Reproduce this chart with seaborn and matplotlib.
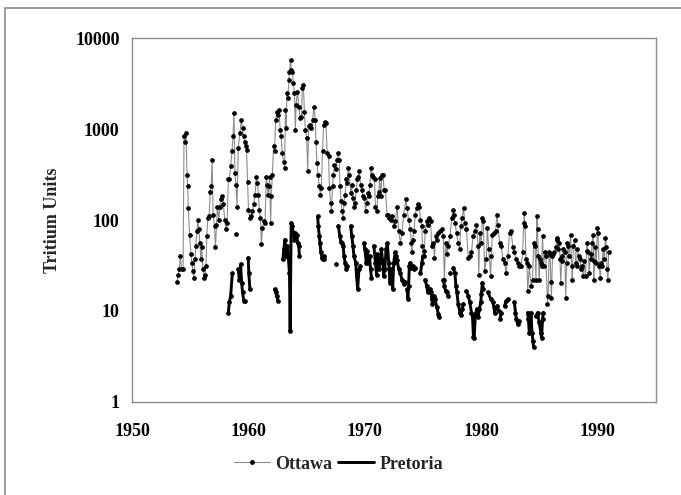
import numpy as np
import pandas as pd
import matplotlib
matplotlib.use("Agg")
import matplotlib.pyplot as plt
from matplotlib.lines import Line2D
from matplotlib.patches import Rectangle
import seaborn as sns

# Ottawa monthly tritium (TU)
ott_year = [
    1953.86, 1953.95, 1954.06, 1954.15, 1954.26, 1954.38, 1954.46, 1954.55, 1954.63, 1954.72,
    1954.77, 1954.83, 1954.94, 1955.06, 1955.14, 1955.23, 1955.31, 1955.40, 1955.48, 1955.57,
    1955.65, 1955.74, 1955.82, 1955.91, 1955.99, 1956.08, 1956.17, 1956.25, 1956.34, 1956.42,
    1956.51, 1956.62, 1956.71, 1956.79, 1956.88, 1956.96, 1957.08, 1957.16, 1957.25, 1957.33,
    1957.45, 1957.53, 1957.62, 1957.73, 1957.84, 1957.96, 1958.07, 1958.16, 1958.27, 1958.35,
    1958.47, 1958.58, 1958.67, 1958.75, 1958.84, 1958.92, 1959.01, 1959.12, 1959.26, 1959.38,
    1959.49, 1959.58, 1959.66, 1959.75, 1959.83, 1959.92, 1960.00, 1960.12, 1960.23, 1960.34,
    1960.46, 1960.57, 1960.68, 1960.77, 1960.85, 1960.94, 1961.03, 1961.11, 1961.20, 1961.31,
    1961.42, 1961.53, 1961.59, 1961.68, 1961.76, 1961.82, 1961.90, 1961.96, 1962.05, 1962.16,
    1962.24, 1962.33, 1962.44, 1962.53, 1962.61, 1962.73, 1962.81, 1962.90, 1963.01, 1963.10,
    1963.18, 1963.24, 1963.30, 1963.38, 1963.47, 1963.52, 1963.61, 1963.69, 1963.78, 1963.86,
    1963.95, 1964.03, 1964.09, 1964.21, 1964.32, 1964.43, 1964.55, 1964.63, 1964.72, 1964.80,
    1964.89, 1965.00, 1965.09, 1965.17, 1965.29, 1965.40, 1965.51, 1965.63, 1965.74, 1965.80,
    1965.88, 1965.97, 1966.08, 1966.17, 1966.25, 1966.37, 1966.45, 1966.56, 1966.65, 1966.76,
    1966.88, 1966.96, 1967.05, 1967.13, 1967.22, 1967.30, 1967.39, 1967.50, 1967.62, 1967.70,
    1967.79, 1967.87, 1967.96, 1968.04, 1968.13, 1968.21, 1968.30, 1968.41, 1968.50, 1968.58,
    1968.67, 1968.78, 1968.87, 1968.95, 1969.06, 1969.15, 1969.26, 1969.35, 1969.43, 1969.52,
    1969.63, 1969.72, 1969.83, 1969.95, 1970.06, 1970.17, 1970.26, 1970.34, 1970.43, 1970.54,
    1970.63, 1970.71, 1970.83, 1970.91, 1971.03, 1971.11, 1971.20, 1971.28, 1971.37, 1971.48,
    1971.57, 1971.65, 1971.76, 1971.91, 1971.99, 1972.11, 1972.22, 1972.34, 1972.48, 1972.62,
    1972.77, 1972.91, 1973.05, 1973.19, 1973.33, 1973.53, 1973.62, 1973.76, 1973.90, 1973.99,
    1974.04, 1974.10, 1974.22, 1974.33, 1974.44, 1974.56, 1974.67, 1974.78, 1974.90, 1974.95,
    1975.04, 1975.12, 1975.18, 1975.30, 1975.41, 1975.52, 1975.64, 1975.75, 1975.89, 1975.98,
    1976.09, 1976.18, 1976.32, 1976.46, 1976.60, 1976.74, 1976.83, 1976.94, 1977.03, 1977.17,
    1977.31, 1977.46, 1977.54, 1977.63, 1977.74, 1977.88, 1978.02, 1978.14, 1978.25, 1978.36,
    1978.48, 1978.59, 1978.73, 1978.88, 1979.02, 1979.16, 1979.30, 1979.44, 1979.59, 1979.73,
    1979.79, 1979.87, 1980.01, 1980.10, 1980.18, 1980.30, 1980.44, 1980.52, 1980.64, 1980.81,
    1980.87, 1980.95, 1981.09, 1981.23, 1981.35, 1981.43, 1981.58, 1981.72, 1981.86, 1982.00,
    1982.14, 1982.29, 1982.43, 1982.57, 1982.71, 1982.85, 1982.99, 1983.14, 1983.28, 1983.42,
    1983.56, 1983.65, 1983.70, 1983.76, 1983.85, 1983.93, 1983.99, 1984.13, 1984.27, 1984.41,
    1984.50, 1984.61, 1984.70, 1984.78, 1984.84, 1984.90, 1984.98, 1985.07, 1985.12, 1985.18,
    1985.27, 1985.35, 1985.47, 1985.55, 1985.69, 1985.75, 1985.84, 1985.92, 1985.98, 1986.03,
    1986.12, 1986.20, 1986.26, 1986.40, 1986.49, 1986.55, 1986.63, 1986.72, 1986.77, 1986.83,
    1986.92, 1986.97, 1987.06, 1987.17, 1987.26, 1987.34, 1987.40, 1987.46, 1987.54, 1987.68,
    1987.77, 1987.82, 1987.91, 1988.02, 1988.11, 1988.19, 1988.25, 1988.36, 1988.48, 1988.59,
    1988.68, 1988.76, 1988.82, 1988.96, 1989.05, 1989.10, 1989.19, 1989.27, 1989.39, 1989.44,
    1989.53, 1989.61, 1989.67, 1989.73, 1989.81, 1989.90, 1989.96, 1990.04, 1990.13, 1990.24,
    1990.30, 1990.38, 1990.47, 1990.58, 1990.67, 1990.75, 1990.81, 1990.89, 1990.95,
]
ott_tu = [
    21, 25, 29, 40, 29, 29, 830, 730, 900, 315,
    235, 135, 69, 42, 34, 27.5, 23, 37, 52, 75,
    100, 79, 56, 37, 50, 29, 23, 25, 31, 67,
    105, 110, 205, 235, 460, 115, 86, 50, 89, 140,
    100, 140, 170, 185, 150, 100, 79, 93, 280, 280,
    390, 570, 830, 1500, 330, 245, 140, 620, 900, 1260,
    1020, 830, 730, 645, 590, 265, 130, 105, 110, 125,
    150, 190, 300, 255, 190, 130, 105, 54, 82, 97,
    93, 300, 245, 190, 235, 300, 93, 185, 315, 645,
    570, 1260, 1560, 1430, 1630, 980, 830, 545, 440, 375,
    1630, 1020, 2480, 2180, 3470, 4280, 5740, 4470, 4280, 3190,
    2480, 980, 1850, 2580, 1770, 1320, 1370, 2810, 3060, 1560,
    980, 800, 345, 1070, 1110, 1020, 1260, 1770, 1260, 730,
    420, 315, 235, 190, 225, 570, 1110, 1210, 1160, 545,
    500, 225, 155, 125, 235, 315, 405, 360, 460, 545,
    460, 235, 160, 125, 105, 155, 190, 280, 255, 375,
    315, 200, 245, 175, 140, 155, 215, 280, 300, 345,
    245, 215, 185, 175, 125, 155, 200, 185, 245, 375,
    315, 300, 280, 140, 125, 185, 205, 290, 185, 315,
    315, 215, 215, 115, 115, 105, 100, 110, 86, 97,
    140, 75, 56, 72, 115, 170, 135, 100, 79, 56,
    44, 61, 75, 115, 135, 150, 140, 100, 86, 52,
    40, 46, 75, 97, 89, 105, 97, 52, 56, 38.5,
    67, 61, 72, 75, 79, 67, 22, 56, 42, 52,
    67, 105, 130, 115, 93, 72, 56, 48, 86, 105,
    135, 93, 79, 38.5, 40, 44, 67, 75, 89, 52,
    25, 72, 56, 105, 97, 27.5, 37, 82, 48, 24,
    40, 69, 72, 75, 115, 89, 56, 52, 37, 34,
    26, 40, 72, 75, 50, 44, 37, 34, 31, 31,
    44, 93, 120, 86, 37, 34, 16.7, 31, 19, 22,
    56, 52, 22, 110, 79, 40, 22, 37, 34, 31,
    67, 31, 44, 40, 12, 14.7, 44, 42, 21, 14,
    40, 42, 44, 50, 61, 64, 48, 56, 37, 20.5,
    35, 40, 48, 44, 14, 34, 56, 52, 40, 69,
    31, 22, 52, 61, 34, 31, 48, 40, 37, 28.7,
    31, 24, 35, 24, 46, 56, 44, 26, 42, 37,
    56, 69, 22, 35, 50, 34, 82, 72, 31, 23,
    34, 31, 48, 37, 64, 50, 28.7, 22, 44,
]

# Pretoria tritium (TU); NaN marks a gap in the record
nan = np.nan
pre_year = [
    1958.27, 1958.35, 1958.47, 1958.61, nan,
    1958.90, nan,
    1959.12, 1959.21, 1959.32, 1959.41, 1959.49, 1959.60, 1959.72, nan,
    1959.97, 1960.03, 1960.12, nan,
    1962.24, 1962.33, 1962.44, 1962.53, nan,
    1962.95, 1963.04, 1963.13, 1963.24, 1963.35, 1963.52, 1963.58, 1963.67, 1963.75, 1963.86,
    1963.95, 1964.03, 1964.15, 1964.23, 1964.32, 1964.38, nan,
    1965.94, 1966.00, 1966.08, 1966.14, 1966.22, 1966.31, 1966.37, 1966.45, 1966.51, nan,
    1967.56, nan,
    1967.73, 1967.84, 1967.93, 1968.01, 1968.13, 1968.21, 1968.30, 1968.41, 1968.50, nan,
    1968.78, 1968.87, 1968.98, 1969.06, 1969.21, 1969.29, 1969.38, 1969.49, 1969.58, nan,
    1969.92, 1970.00, 1970.12, 1970.20, 1970.29, 1970.40, 1970.49, 1970.57, nan,
    1970.77, 1970.91, 1971.00, 1971.08, 1971.20, 1971.34, 1971.42, 1971.54, 1971.62, 1971.71,
    1971.82, 1971.93, 1972.05, 1972.16, 1972.25, 1972.39, 1972.48, 1972.60, 1972.70, 1972.77,
    1972.91, 1973.05, 1973.19, 1973.33, 1973.48, nan,
    1973.62, 1973.70, 1973.76, 1973.82, 1973.90, 1973.99, 1974.10, 1974.22, 1974.33, nan,
    1974.78, 1974.90, 1974.98, nan,
    1975.18, 1975.30, 1975.41, 1975.52, 1975.61, 1975.69, 1975.75, 1975.81, 1975.92, 1976.03,
    1976.18, 1976.32, 1976.40, nan,
    1976.74, 1976.83, 1976.94, 1977.06, 1977.17, nan,
    1977.31, nan,
    1977.60, 1977.74, 1977.82, 1977.91, 1978.02, 1978.17, 1978.25, 1978.36, 1978.45, nan,
    1978.73, 1978.88, 1979.02, 1979.16, 1979.25, 1979.33, 1979.39, 1979.50, 1979.62, 1979.73,
    1979.84, 1979.96, 1980.01, 1980.10, 1980.18, nan,
    1980.58, 1980.81, nan,
    1981.01, 1981.15, nan,
    1981.29, 1981.38, 1981.49, nan,
    1981.60, 1981.72, nan,
    1982.00, 1982.14, 1982.29, nan,
    1982.85, 1982.94, 1983.02, 1983.14, 1983.22, nan,
    1983.99, 1984.05, 1984.13, 1984.22, 1984.27, 1984.36, 1984.44, 1984.50, nan,
    1984.70, 1984.84, 1984.98, 1985.12, 1985.18, 1985.27, 1985.32,
]
pre_tu = [
    9.6, 12.4, 14.7, 26, nan,
    71, nan,
    28.7, 22, 32.6, 20.5, 16, 12.9, 12.9, nan,
    38.5, 26, 17.3, nan,
    17.3, 16, 14.7, 12.9, nan,
    37, 48, 61, 40, 52, 26, 6, 93, 86, 72,
    61, 72, 69, 56, 52, 40, nan,
    110, 86, 67, 56, 44, 38.5, 37, 40, 37, nan,
    32.6, nan,
    86, 67, 58, 56, 52, 40, 34, 28.7, 31, nan,
    86, 67, 52, 40, 34, 24, 17.3, 28.7, 31, nan,
    56, 48, 34, 46, 34, 40, 28.7, 23, nan,
    52, 34, 25, 42, 28.7, 37, 48, 34, 24, 28.7,
    48, 56, 34, 20.5, 28.7, 17.3, 34, 44, 40, 36,
    29, 26, 22, 20, 21, nan,
    17.3, 13.5, 19, 31, 34, 30, 31, 28.7, 30, nan,
    26, 34, 40, nan,
    22, 19, 16, 16.5, 17.3, 16, 13.5, 12, 14.7, 13.5,
    11, 9.2, 8.6, nan,
    22, 19, 16.5, 16, 14.7, nan,
    26, nan,
    30, 26, 19, 16, 12, 9.6, 9, 10.5, 12, nan,
    16.5, 14.7, 12.4, 9.6, 8.6, 5.2, 5, 9.2, 10.5, 8.6,
    10.5, 12.4, 15.5, 20.5, 17.3, nan,
    16, 13.5, nan,
    12.4, 9.6, nan,
    10.9, 11.4, 10, nan,
    8.1, 9.6, nan,
    11.4, 12.9, 13.5, nan,
    12.4, 9.6, 8.1, 7.2, 7.7, nan,
    9.6, 8.1, 5.8, 6.3, 9.6, 5.8, 4.7, 4.0, nan,
    8.8, 9.6, 7.5, 5.8, 5.1, 8.1, 9.6,
]

ottawa = pd.DataFrame({"year": ott_year, "tu": ott_tu})
pretoria = pd.DataFrame({"year": pre_year, "tu": pre_tu})
pretoria["seg"] = pretoria["year"].isna().cumsum()
pretoria = pretoria.dropna()

sns.set_style("white")
plt.rcParams["font.family"] = ["Liberation Serif", "DejaVu Serif"]
plt.rcParams["font.weight"] = "bold"

fig = plt.figure(figsize=(6.81, 4.95), dpi=100)
ax = fig.add_axes([0.194, 0.188, 0.769, 0.735])

sns.lineplot(data=ottawa, x="year", y="tu", ax=ax, color="#8c8c8c", lw=0.8,
             marker="o", markersize=2.6, markerfacecolor="black",
             markeredgecolor="black", estimator=None, sort=False)
sns.lineplot(data=pretoria, x="year", y="tu", units="seg", ax=ax, color="black",
             lw=2.1, marker="o", markersize=2.6, markeredgecolor="black",
             estimator=None, sort=False)

ax.set_yscale("log")
ax.set_ylim(1, 10000)
ax.set_xlim(1950, 1995)
ax.set_xticks([1950, 1960, 1970, 1980, 1990])
ax.set_yticks([1, 10, 100, 1000, 10000])
ax.set_yticklabels(["1", "10", "100", "1000", "10000"])
ax.minorticks_off()
ax.set_xlabel("")
ax.set_ylabel("Tritium Units", fontsize=13, fontweight="bold", labelpad=10)

for s in ax.spines.values():
    s.set_color("#8c8c8c")
    s.set_linewidth(1.0)
ax.tick_params(axis="both", direction="out", length=5, width=1, color="#8c8c8c",
               labelsize=13, labelcolor="black", pad=4)
ax.tick_params(axis="x", pad=10)
for lab in ax.get_xticklabels() + ax.get_yticklabels():
    lab.set_fontweight("bold")

handles = [
    Line2D([0], [0], color="#8c8c8c", lw=0.8, marker="o", markersize=2.5,
           markerfacecolor="black", markeredgecolor="black"),
    Line2D([0], [0], color="black", lw=2.1),
]
fig.legend(handles, ["Ottawa", "Pretoria"], loc="center", bbox_to_anchor=(0.497, 0.062),
           ncol=2, frameon=False, handlelength=2.0, handletextpad=0.3,
           columnspacing=0.3, prop={"weight": "bold", "size": 13})

fig.patches.append(Rectangle((0.0073, -0.05), 1.1, 1.034, transform=fig.transFigure,
                             fill=False, edgecolor="#8c8c8c", lw=1.2))

fig.savefig("out.png", dpi=100)
